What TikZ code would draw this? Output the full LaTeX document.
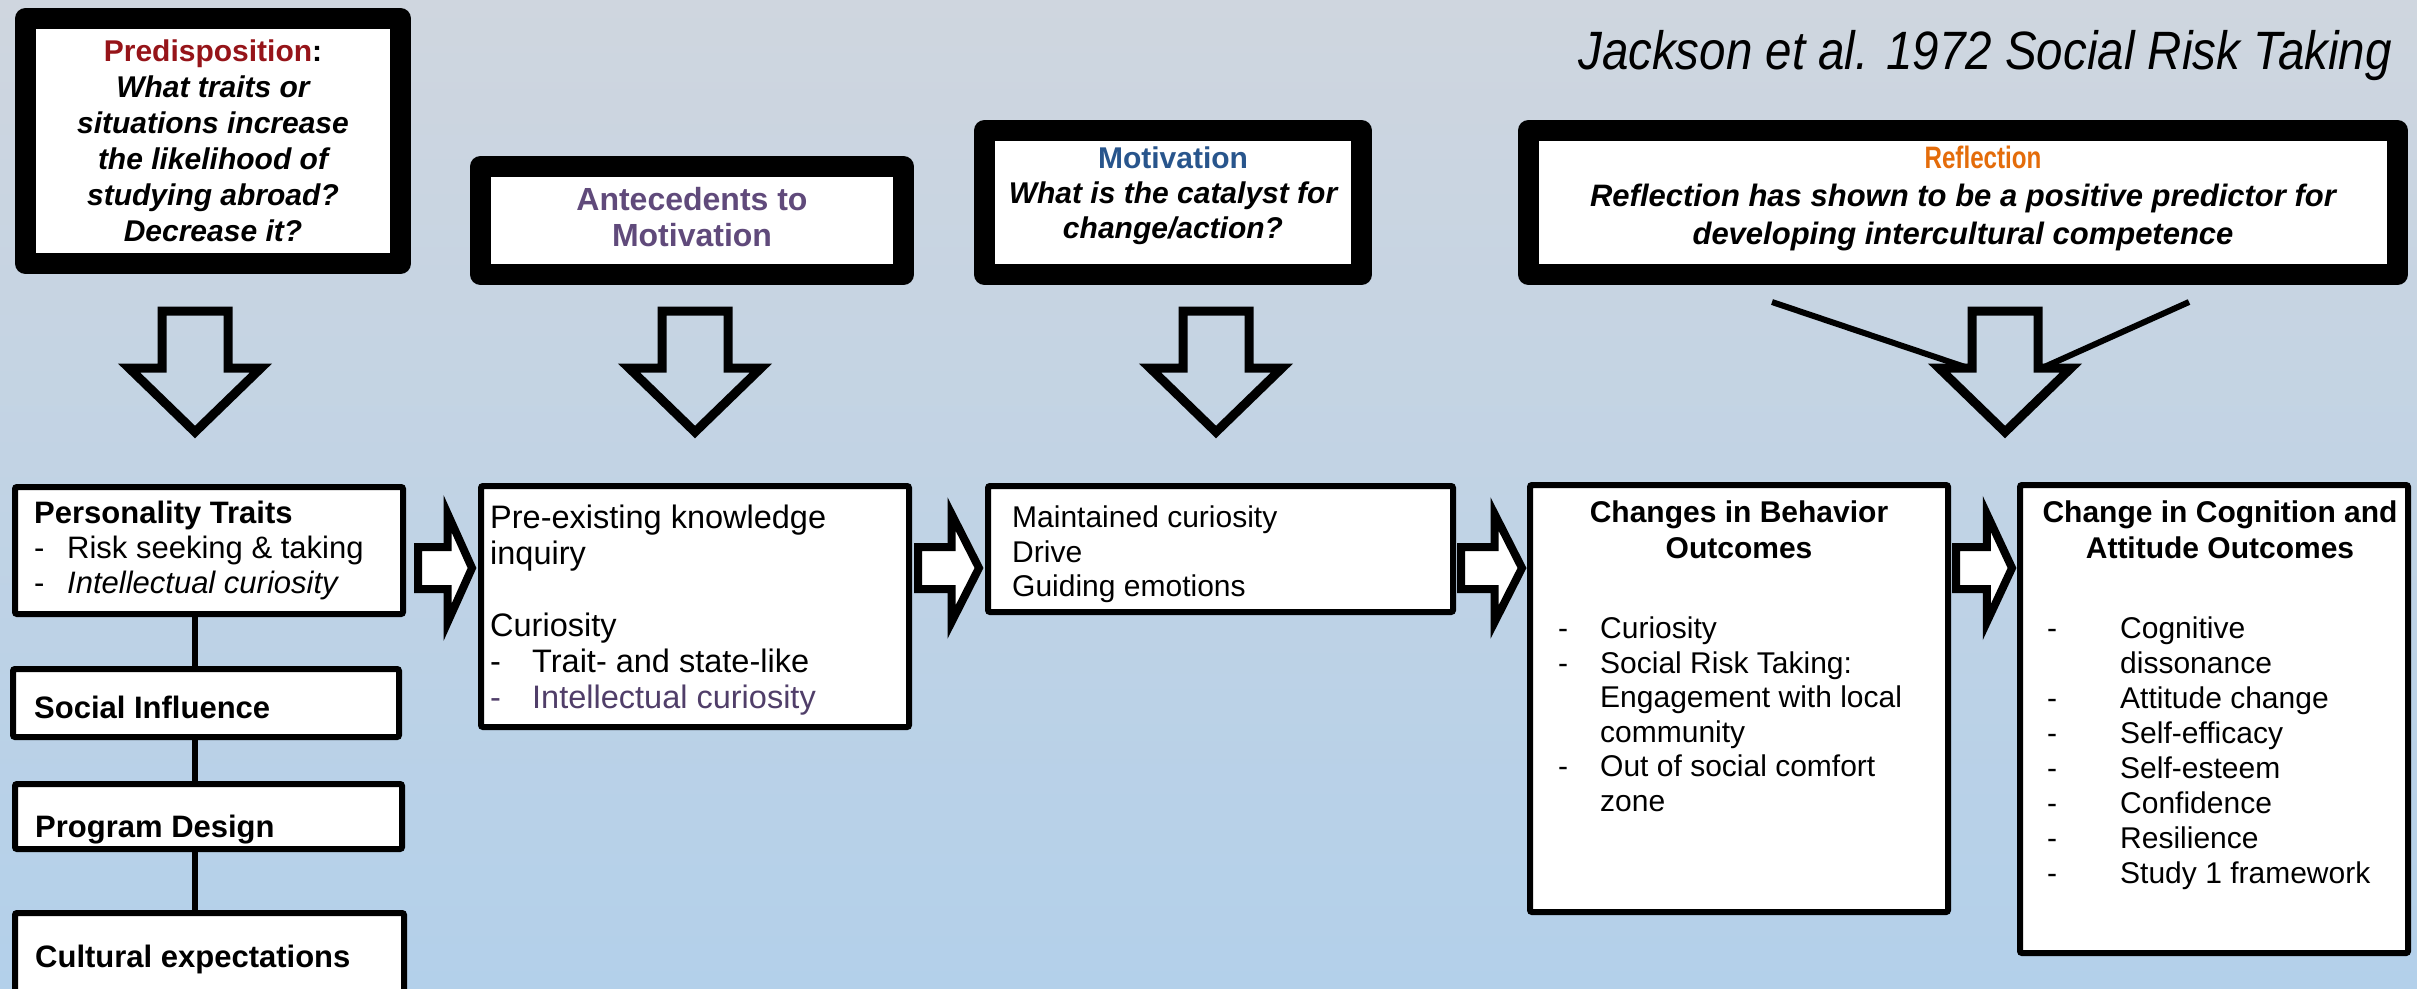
\documentclass[tikz,border=0pt]{standalone}
\usepackage{fontspec}
\setmainfont{Liberation Sans}
\newfontfamily\narrowfont[FakeStretch=0.78]{Liberation Sans}
\newfontfamily\titlefont[FakeStretch=0.88]{Liberation Sans}
\usetikzlibrary{calc}
\definecolor{bgtop}{RGB}{207,214,223}
\definecolor{bgbot}{RGB}{179,208,234}
\definecolor{predred}{RGB}{150,20,25}
\definecolor{antepurple}{RGB}{96,74,123}
\definecolor{icpurple}{RGB}{80,62,105}
\definecolor{motblue}{RGB}{40,85,140}
\definecolor{reforange}{RGB}{228,108,10}
\newcommand\bul[1]{\makebox[#1][l]{-}}
\newcommand\myrarrow[2]{\draw[rarrow] ($(#1)+(0,-21)$) -- ($(#1)!0.55!(#2)+(0,-21)$) -- ($(#1)!0.55!(#2)+(0,-54)$) -- (#2) -- ($(#1)!0.55!(#2)+(0,54)$) -- ($(#1)!0.55!(#2)+(0,21)$) -- ($(#1)+(0,21)$) -- cycle;}
\begin{document}
\begin{tikzpicture}[x=1pt,y=-1pt,
  topbox/.style={draw=black, line width=21pt, fill=white, line join=round, inner sep=0pt},
  toptxt/.style={inner sep=0pt, align=center},
  lowbox/.style={draw=black, line width=6pt, fill=white, rounded corners=2pt, inner sep=0pt},
  txt/.style={inner sep=0pt, align=left, font=\fontsize{30}{35}\selectfont},
  blockdown/.style={draw=black, line width=9pt, line join=miter},
  rarrow/.style={draw=black, fill=white, line width=8pt, line join=miter},
  conn/.style={draw=black, line width=6pt},
  downblock/.pic={\draw[blockdown] (-33,311) -- (33,311) -- (33,368) -- (66,368) -- (0,432) -- (-66,368) -- (-33,368) -- cycle;
     \coordinate (-hl) at (-37,368); \coordinate (-hr) at (37,368);}
]
\useasboundingbox (0,0) rectangle (2417,988);
\clip (0,0) rectangle (2417,988);
\shade[top color=bgtop, bottom color=bgbot] (0,0) rectangle (2417,988);

% title
\node[anchor=base east, inner sep=0pt, font={\titlefont\itshape\fontsize{54}{60}\selectfont}] (title) at (2392,69) {Jackson et al. 1972 Social Risk Taking};

% top boxes
\node[topbox, minimum width=375pt, minimum height=245pt] (pred) at (213,141) {};
\node[toptxt, font={\fontsize{30}{36}\selectfont\bfseries\itshape}] (predt) at (pred.center)
  {{\upshape\color{predred}Predisposition}{\upshape :}\\What traits or\\situations increase\\the likelihood of\\studying abroad?\\Decrease it?};
\node[topbox, minimum width=423pt, minimum height=108pt] (ante) at (692,220.5) {};
\node[toptxt, text=antepurple, font={\fontsize{32}{36}\selectfont\bfseries}] (antet) at ($(ante.center)+(0,-3)$)
  {Antecedents to\\Motivation};
\node[topbox, minimum width=377pt, minimum height=144pt] (motiv) at (1173,202.5) {};
\node[toptxt, font={\fontsize{30}{35}\selectfont\bfseries\itshape}] (motivt) at ($(motiv.center)+(0,-7)$)
  {{\upshape\color{motblue}Motivation}\\What is the catalyst for\\change/action?};
\node[topbox, minimum width=869pt, minimum height=144pt] (refl) at (1963,202.5) {};
\node[toptxt, font={\fontsize{31}{38}\selectfont\bfseries\itshape}] (reflt) at ($(refl.center)+(0,-4)$)
  {\hspace*{40pt}{\narrowfont\upshape\color{reforange}Reflection}\\Reflection has shown to be a positive predictor for\\developing intercultural competence};

% down block arrows
\pic (da1) at (195,0) {downblock};
\pic (da2) at (695,0) {downblock};
\pic (da3) at (1216,0) {downblock};
\pic (da4) at (2005,0) {downblock};
\coordinate (rl1) at (1772,302);
\coordinate (rl2) at (2189,302);
\draw[conn] (rl1) -- (da4-hl);
\draw[conn] (rl2) -- (da4-hr);

% lower boxes
\coordinate (lx) at (195,0);
\node[lowbox, minimum width=388pt, minimum height=127pt] (pers) at (209,550.5) {};
\node[lowbox, minimum width=386pt, minimum height=68pt] (soc) at (206,703) {};
\node[lowbox, minimum width=387pt, minimum height=65pt] (prog) at (208.5,816.5) {};
\node[lowbox, minimum width=389pt, minimum height=94pt] (cult) at (209.5,960) {};
\draw[conn] (pers.south -| lx) -- (soc.north -| lx);
\draw[conn] (soc.south -| lx) -- (prog.north -| lx);
\draw[conn] (prog.south -| lx) -- (cult.north -| lx);
\node[lowbox, minimum width=428pt, minimum height=241pt] (pre) at (695,606.5) {};
\node[lowbox, minimum width=465pt, minimum height=126pt] (maint) at (1220.5,549) {};
\node[lowbox, minimum width=418pt, minimum height=427pt] (chg) at (1739,698.5) {};
\node[lowbox, minimum width=388pt, minimum height=468pt] (cog) at (2214,719) {};

% texts in lower boxes
\node[txt, anchor=north west, font=\fontsize{31}{35}\selectfont] (perst) at (34,501)
  {\textbf{Personality Traits}\\\bul{33pt}Risk seeking \& taking\\\bul{33pt}\textit{Intellectual curiosity}};
\node[txt, anchor=base west, font={\fontsize{31}{36}\selectfont\bfseries}] (soct) at (34,718) {Social Influence};
\node[txt, anchor=base west, font={\fontsize{31}{36}\selectfont\bfseries}] (progt) at (35,837) {Program Design};
\node[txt, anchor=base west, font={\fontsize{31}{36}\selectfont\bfseries}] (cultt) at (35,967) {Cultural expectations};
\node[txt, anchor=north west, font=\fontsize{32.5}{36}\selectfont] (pret) at (490,505)
  {Pre-existing knowledge\\inquiry\\[36pt]Curiosity\\\bul{42pt}Trait- and state-like\\{\color{icpurple}\bul{42pt}Intellectual curiosity}};
\node[txt, anchor=north west, font=\fontsize{30}{34.5}\selectfont] (maintt) at (1012,506)
  {Maintained curiosity\\Drive\\Guiding emotions};
\node[txt, anchor=north, align=center, font={\fontsize{30}{35.5}\selectfont\bfseries}] (chgt) at (1739,501)
  {Changes in Behavior\\Outcomes};
\node[txt, anchor=north west, font=\fontsize{30}{34.5}\selectfont] (chgl) at (1558,617)
  {\bul{42pt}Curiosity\\\bul{42pt}Social Risk Taking:\\\hspace*{42pt}Engagement with local\\\hspace*{42pt}community\\\bul{42pt}Out of social comfort\\\hspace*{42pt}zone};
\node[txt, anchor=north, align=center, font={\fontsize{30}{35.5}\selectfont\bfseries}] (cogt) at (2220,501)
  {Change in Cognition and\\Attitude Outcomes};
\node[txt, anchor=north west, font=\fontsize{30}{35}\selectfont] (cogl) at (2047,617)
  {\bul{73pt}Cognitive\\\hspace*{73pt}dissonance\\\bul{73pt}Attitude change\\\bul{73pt}Self-efficacy\\\bul{73pt}Self-esteem\\\bul{73pt}Confidence\\\bul{73pt}Resilience\\\bul{73pt}Study 1 framework};

% right block arrows
\coordinate (ay) at (0,568);
\coordinate (a1s) at ($(pers.east |- ay)+(12,0)$);
\coordinate (a1e) at ($(pre.west |- ay)+(-6,0)$);
\coordinate (a2s) at ($(pre.east |- ay)+(6,0)$);
\coordinate (a2e) at ($(maint.west |- ay)+(-6,0)$);
\coordinate (a3s) at ($(maint.east |- ay)+(5,0)$);
\coordinate (a3e) at ($(chg.west |- ay)+(-5,0)$);
\coordinate (a4s) at ($(chg.east |- ay)+(5,0)$);
\coordinate (a4e) at ($(cog.west |- ay)+(-5,0)$);
\myrarrow{a1s}{a1e}
\myrarrow{a2s}{a2e}
\myrarrow{a3s}{a3e}
\myrarrow{a4s}{a4e}
\end{tikzpicture}
\end{document}
